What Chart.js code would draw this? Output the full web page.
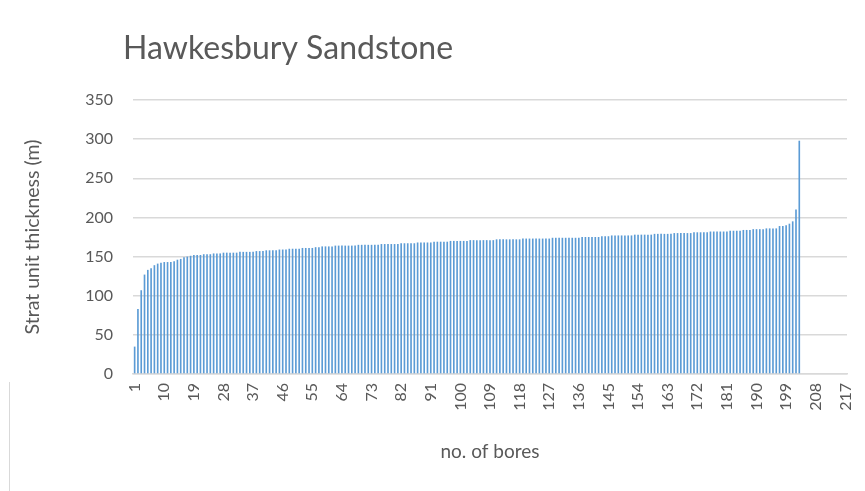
<!DOCTYPE html>
<html>
<head>
<meta charset="utf-8">
<script src="https://cdn.jsdelivr.net/npm/chart.js@4.4.0/dist/chart.umd.min.js"></script>
<style>
  html, body { margin: 0; padding: 0; background: #fff; }
  #wrap { position: relative; width: 865px; height: 491px; }
  #edge { position: absolute; left: 9px; top: 382px; width: 0; height: 109px; border-left: 1px solid #d9d9d9; }
</style>
</head>
<body>
<div id="wrap"><canvas id="chart" width="865" height="491"></canvas><div id="edge"></div></div>
<script>
// chart text
const chartTitle = 'Hawkesbury Sandstone';
const xTitle = 'no. of bores';
const yTitle = 'Strat unit thickness (m)';

// categories: bore numbers 1..217
const bores = [];
for (let i = 1; i <= 217; i++) bores.push(String(i));

// thickness per bore (m), sorted
const thickness = [
  35, 83, 107, 127, 133, 135, 139, 141, 142, 143,
  143, 143, 144, 146, 147, 149, 150, 151, 152, 152,
  152, 153, 153, 153, 154, 154, 154, 155, 155, 155,
  155, 155, 156, 156, 156, 156, 156, 157, 157, 157,
  158, 158, 158, 158, 159, 159, 159, 160, 160, 160,
  160, 161, 161, 161, 161, 162, 162, 163, 163, 163,
  163, 164, 164, 164, 164, 164, 164, 164, 165, 165,
  165, 165, 165, 165, 165, 166, 166, 166, 166, 166,
  166, 167, 167, 167, 167, 167, 168, 168, 168, 168,
  168, 169, 169, 169, 169, 169, 170, 170, 170, 170,
  170, 170, 171, 171, 171, 171, 171, 171, 171, 171,
  172, 172, 172, 172, 172, 172, 172, 172, 173, 173,
  173, 173, 173, 173, 173, 173, 173, 174, 174, 174,
  174, 174, 174, 174, 174, 174, 175, 175, 175, 175,
  175, 175, 176, 176, 176, 177, 177, 177, 177, 177,
  177, 177, 178, 178, 178, 178, 178, 178, 179, 179,
  179, 179, 179, 179, 180, 180, 180, 180, 180, 180,
  181, 181, 181, 181, 181, 182, 182, 182, 182, 182,
  182, 183, 183, 183, 183, 184, 184, 184, 185, 185,
  185, 185, 186, 186, 186, 186, 189, 189, 190, 192,
  195, 210, 298
];

// y axis ticks
const yMin = 0;
const yMax = 350;
const yStep = 50;
const labelEvery = 9;

const textColor = '#595959';
const gridColor = '#d9d9d9';
const fontFamily = 'Lato, "Open Sans", sans-serif';

// title drawn left-aligned just outside the plot area, like Excel does
const titlePlugin = {
  id: 'leftTitle',
  afterDraw(chart) {
    const ctx = chart.ctx;
    ctx.save();
    ctx.font = '32px ' + fontFamily;
    ctx.fillStyle = textColor;
    ctx.textBaseline = 'middle';
    ctx.textAlign = 'left';
    ctx.fillText(chartTitle, 123, 49);
    ctx.restore();
  }
};

const ctx = document.getElementById('chart');
const chart = new Chart(ctx, {
  type: 'bar',
  data: {
    labels: bores,
    datasets: [{
      data: thickness,
      backgroundColor: '#5B9BD5',
      borderWidth: 0,
      categoryPercentage: 1,
      barPercentage: 0.5
    }]
  },
  options: {
    responsive: false,
    animation: false,
    layout: { padding: { top: 100, right: 18, bottom: 0, left: 0 } },
    plugins: {
      legend: { display: false },
      tooltip: { enabled: false }
    },
    scales: {
      x: {
        grid: { display: false, drawTicks: false },
        border: { display: true, color: gridColor, width: 1.5 },
        ticks: {
          autoSkip: false,
          minRotation: 90,
          maxRotation: 90,
          padding: 9,
          color: textColor,
          font: { family: fontFamily, size: 16 },
          callback: function (val, i) {
            return i % labelEvery === 0 ? bores[i] : '';
          }
        },
        title: {
          display: true,
          text: xTitle,
          color: textColor,
          font: { family: fontFamily, size: 19 },
          padding: { top: 0, bottom: 28 }
        },
        afterFit(scale) {
          scale.height = 117;
          scale.paddingLeft = 0;
          scale.paddingRight = 0;
        }
      },
      y: {
        min: yMin,
        max: yMax,
        grid: { color: gridColor, lineWidth: 1.4, drawTicks: false },
        border: { display: false },
        ticks: {
          stepSize: yStep,
          padding: 20,
          color: textColor,
          font: { family: fontFamily, size: 16 }
        },
        title: {
          display: true,
          text: yTitle,
          color: textColor,
          font: { family: fontFamily, size: 19.5 },
          padding: { top: 21, bottom: 0 }
        },
        afterFit(scale) { scale.width = 133; }
      }
    }
  },
  plugins: [titlePlugin]
});
</script>
</body>
</html>
